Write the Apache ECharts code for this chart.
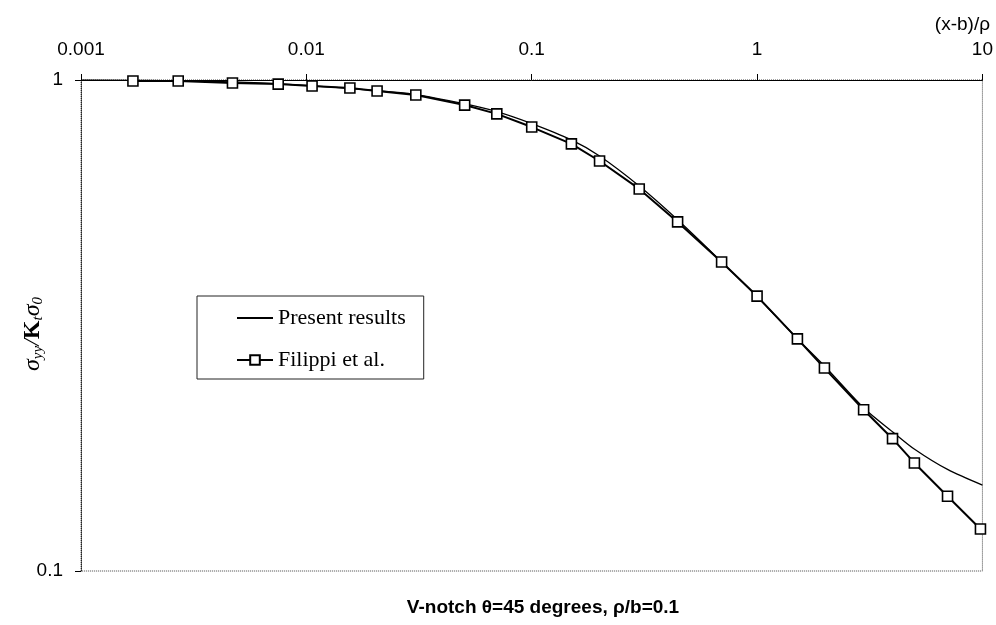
<!DOCTYPE html>
<html>
<head>
<meta charset="utf-8">
<script src="https://cdn.jsdelivr.net/npm/echarts@6/dist/echarts.min.js"></script>
<style>
  html, body { margin: 0; padding: 0; background: #fff; }
  #chart { width: 996px; height: 625px; }
</style>
</head>
<body>
<div id="chart"></div>
<script>
// Normalised stress ahead of a V-notch tip, log-log scale
const xTickLabels = ['0.001', '0.01', '0.1', '1', '10'];
const yTickLabels = ['0.1', '1'];

// Present results (smooth curve)
const presentX = [0.001, 0.002, 0.005, 0.01, 0.02, 0.03, 0.05, 0.07, 0.1, 0.15, 0.2, 0.3, 0.45, 0.7, 1, 1.5, 2, 3, 4, 5, 7, 10];
const presentY = [1.0, 0.998, 0.99, 0.975, 0.952, 0.935, 0.895, 0.862, 0.815, 0.755, 0.700, 0.608, 0.516, 0.425, 0.362, 0.298, 0.261, 0.214, 0.192, 0.177, 0.161, 0.1496];

// Filippi et al.
const filippiX = [0.0017, 0.0027, 0.0047, 0.0075, 0.0106, 0.0156, 0.0206, 0.0306, 0.0504, 0.07, 0.1, 0.15, 0.2, 0.3, 0.444, 0.696, 1.0, 1.51, 1.99, 2.97, 3.99, 4.99, 7.0, 9.8];
const filippiY = [0.995, 0.995, 0.986, 0.981, 0.972, 0.963, 0.950, 0.932, 0.889, 0.853, 0.802, 0.741, 0.684, 0.600, 0.514, 0.426, 0.363, 0.297, 0.259, 0.213, 0.186, 0.166, 0.142, 0.1218];

const zip = (xs, ys) => xs.map((x, i) => [x, ys[i]]);

const chart = echarts.init(document.getElementById('chart'), null, { renderer: 'canvas' });

const fmt = (labels) => (v) => {
  const hit = labels.find(l => Math.abs(parseFloat(l) - v) / v < 1e-6);
  return hit || '';
};

chart.setOption({
  backgroundColor: '#fff',
  animation: false,
  grid: {
    left: 81, right: 13, top: 80, bottom: 54,
    show: true,
    borderColor: '#444',
    borderWidth: 1,
    borderType: 'dotted'
  },
  xAxis: {
    type: 'log',
    logBase: 10,
    position: 'top',
    min: 0.001,
    max: 10,
    axisLine: { show: true, onZero: false, lineStyle: { color: '#000', width: 1 } },
    axisTick: { show: true, length: 6, lineStyle: { color: '#000' } },
    minorTick: { show: false },
    splitLine: { show: false },
    axisLabel: {
      formatter: fmt(xTickLabels),
      margin: 21,
      color: '#000',
      fontFamily: 'Liberation Sans, Arial, sans-serif',
      fontSize: 19
    }
  },
  yAxis: {
    type: 'log',
    logBase: 10,
    min: 0.1,
    max: 1,
    axisLine: { show: true, lineStyle: { color: '#222', width: 1, type: 'dotted' } },
    axisTick: { show: true, length: 6, lineStyle: { color: '#000' } },
    splitLine: { show: false },
    axisLabel: {
      formatter: fmt(yTickLabels),
      margin: 18,
      color: '#000',
      fontFamily: 'Liberation Sans, Arial, sans-serif',
      fontSize: 19
    }
  },
  legend: {
    left: 197,
    top: 296,
    orient: 'vertical',
    backgroundColor: '#fff',
    borderColor: '#222',
    borderWidth: 1,
    padding: [11, 18, 8, 39],
    itemGap: 20,
    itemWidth: 36,
    itemHeight: 12,
    textStyle: {
      fontFamily: 'Liberation Serif, Times New Roman, serif',
      fontSize: 22,
      color: '#000'
    },
    data: [
      { name: 'Present results', itemStyle: { opacity: 0 } },
      { name: 'Filippi et al.' }
    ]
  },
  series: [
    {
      name: 'Present results',
      type: 'line',
      data: zip(presentX, presentY),
      smooth: 0.3,
      showSymbol: false,
      symbol: 'none',
      lineStyle: { color: '#000', width: 1.3 },
      itemStyle: { color: '#000' },
      z: 3
    },
    {
      name: 'Filippi et al.',
      type: 'line',
      data: zip(filippiX, filippiY),
      symbol: 'rect',
      symbolSize: 10,
      clip: false,
      lineStyle: { color: '#000', width: 2 },
      itemStyle: { color: '#fff', borderColor: '#000', borderWidth: 1.6 },
      z: 4
    }
  ],
  graphic: [
    {
      type: 'text',
      right: 6,
      top: 15,
      style: {
        text: '(x-b)/ρ',
        font: '19px "Liberation Sans", Arial, sans-serif',
        fill: '#000'
      }
    },
    {
      type: 'text',
      x: 543,
      y: 608,
      style: {
        text: 'V-notch θ=45 degrees, ρ/b=0.1',
        font: 'bold 19px "Liberation Sans", Arial, sans-serif',
        fill: '#000',
        align: 'center',
        verticalAlign: 'middle'
      }
    },
    {
      type: 'text',
      x: 33,
      y: 334,
      rotation: Math.PI / 2,
      style: {
        text: '{s|σ}{sub|yy}{s|/}{k|K}{sub|t}{s|σ}{sub|0}',
        align: 'center',
        verticalAlign: 'middle',
        fill: '#000',
        rich: {
          s: { font: 'italic 24px "Liberation Serif", "Times New Roman", serif', fill: '#000' },
          k: { font: 'bold 24px "Liberation Serif", "Times New Roman", serif', fill: '#000' },
          sub: { font: 'italic 15px "Liberation Serif", "Times New Roman", serif', fill: '#000', verticalAlign: 'bottom', padding: [10, 0, 0, 0] }
        }
      }
    }
  ]
});
</script>
</body>
</html>
